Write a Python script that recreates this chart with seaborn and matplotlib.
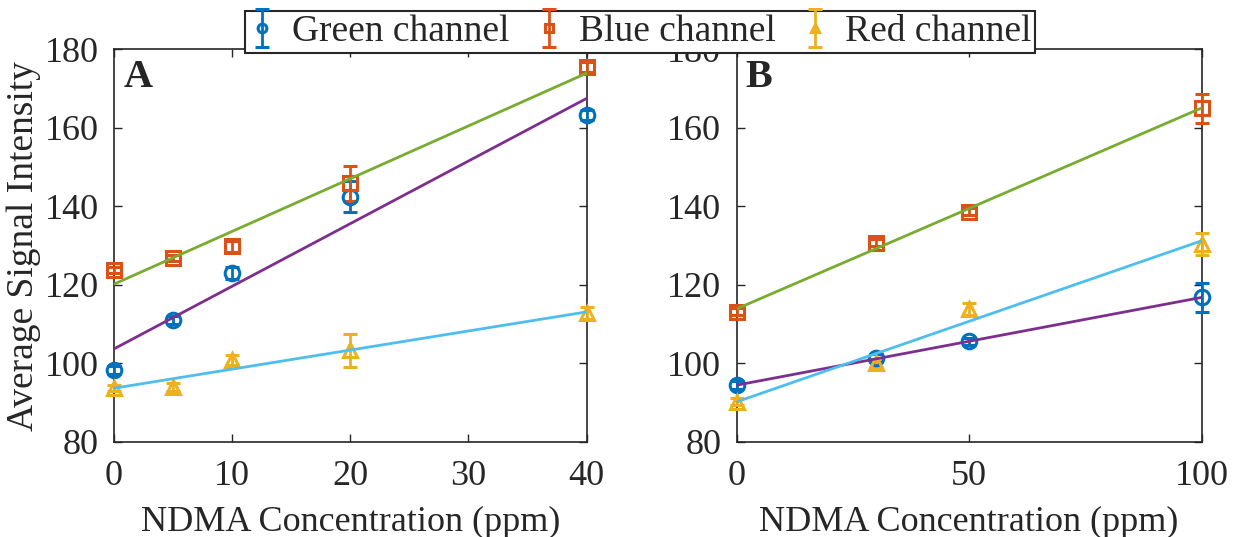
import matplotlib
matplotlib.use("Agg")
import matplotlib.pyplot as plt
import numpy as np
import pandas as pd
import seaborn as sns

# panel A data
conc_a = [0, 5, 10, 20, 40]
green_a = [98.3, 111.1, 123.0, 142.5, 163.3]
green_a_err = [1.0, 1.0, 1.5, 4.0, 1.2]
blue_a = [123.8, 126.8, 129.8, 145.9, 175.5]
blue_a_err = [0.8, 0.8, 1.5, 4.5, 1.2]
red_a = [93.7, 94.1, 100.9, 103.4, 112.8]
red_a_err = [0.8, 1.0, 1.2, 4.2, 1.5]

# panel B data
conc_b = [0, 30, 50, 100]
green_b = [94.4, 101.3, 105.6, 116.8]
green_b_err = [1.0, 1.0, 1.0, 3.8]
blue_b = [113.2, 130.8, 138.7, 165.0]
blue_b_err = [0.8, 1.0, 0.8, 3.7]
red_b = [90.3, 100.2, 113.8, 130.4]
red_b_err = [1.0, 1.0, 1.5, 2.8]

channels = ["Green channel", "Blue channel", "Red channel"]
marker_colors = ["#0072BD", "#D95319", "#EDB120"]
markers = ["o", "s", "^"]
fit_colors = ["#7E2F8E", "#77AC30", "#4DBEEE"]

sns.set_style("ticks")
plt.rcParams["font.family"] = ["Liberation Serif", "DejaVu Serif"]

fig = plt.figure(figsize=(12.4, 5.37), dpi=100)
ax_a = fig.add_axes([0.092, 0.177, 0.381, 0.731])
ax_b = fig.add_axes([0.594, 0.177, 0.375, 0.731])

panels = [
    (ax_a, conc_a, [(green_a, green_a_err), (blue_a, blue_a_err), (red_a, red_a_err)],
     [0, 40], [0, 10, 20, 30, 40], "A"),
    (ax_b, conc_b, [(green_b, green_b_err), (blue_b, blue_b_err), (red_b, red_b_err)],
     [0, 100], [0, 50, 100], "B"),
]

handles = []
for ax, conc, series, xlim, xticks, letter in panels:
    for i, (vals, errs) in enumerate(series):
        h = ax.errorbar(conc, vals, yerr=errs, fmt=markers[i], color=marker_colors[i],
                        mfc="none", mec=marker_colors[i], ms=10.5, mew=2.2, elinewidth=2,
                        capsize=5, capthick=2, clip_on=False, zorder=3,
                        label=channels[i])
        if ax is ax_a:
            handles.append(h)
    # least-squares fit lines
    for i, (vals, errs) in enumerate(series):
        df = pd.DataFrame({"x": conc, "y": vals})
        sns.regplot(data=df, x="x", y="y", ax=ax, scatter=False, ci=None,
                    color=fit_colors[i], line_kws={"lw": 2, "zorder": 4})
    ax.set_xlim(*xlim)
    ax.set_ylim(80, 180)
    ax.set_xticks(xticks)
    ax.set_yticks([80, 100, 120, 140, 160, 180])
    ax.tick_params(direction="in", length=6, width=1, top=True, right=True,
                   labelsize=26)
    ax.tick_params(axis="x", pad=13)
    ax.tick_params(axis="y", pad=11)
    for s in ax.spines.values():
        s.set_linewidth(1.2)
        s.set_color("#262626")
    ax.set_xlabel("NDMA Concentration (ppm)", fontsize=26, labelpad=9)
    ax.set_ylabel("")
    ax.text(0.02, 0.975, letter, transform=ax.transAxes, fontsize=29,
            fontweight="bold", va="top", ha="left")

ax_a.set_ylabel("Average Signal Intensity", fontsize=27, labelpad=3)

leg = fig.legend(handles=handles, labels=channels, loc="lower center",
                 bbox_to_anchor=(0.516, 0.902), ncol=3, fontsize=27,
                 frameon=True, fancybox=False, handlelength=0.7,
                 handletextpad=0.45, columnspacing=0.7, borderpad=0.1,
                 borderaxespad=0, markerscale=0.6, framealpha=1)
leg.get_frame().set_edgecolor("#262626")
leg.get_frame().set_linewidth(1.5)
leg.set_zorder(10)

fig.savefig("out.png", dpi=100)
